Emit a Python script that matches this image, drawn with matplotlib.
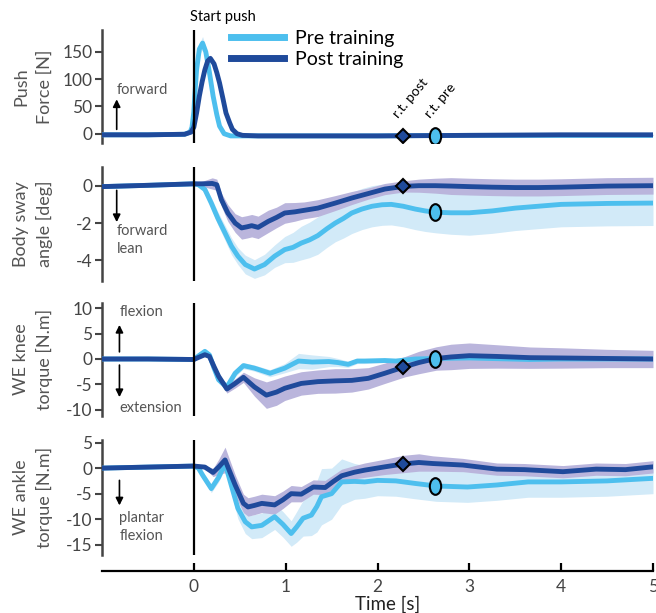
import numpy as np
import matplotlib
matplotlib.use('Agg')
import matplotlib.pyplot as plt
from matplotlib.markers import MarkerStyle
from matplotlib.transforms import Affine2D
from matplotlib.lines import Line2D

plt.rcParams['font.family'] = ['Lato', 'DejaVu Sans']
plt.rcParams['axes.unicode_minus'] = False

# ---------------- data ----------------
series_names = ["Pre training", "Post training"]
rt_post = 2.28
rt_pre = 2.63

t_force_pre = [-1.0, -0.5, -0.1, -0.04, -0.02, 0.0, 0.01, 0.03, 0.06, 0.095, 0.13, 0.17, 0.21, 0.25, 0.28, 0.33, 0.4, 0.6, 1.0, 2.0, 3.0, 4.0, 5.0]
force_pre = [-2, -2, -1, 3, 12, 40, 69, 117, 155, 166, 150, 112, 69, 35, 14, 0, -4, -4, -4, -4, -3, -3, -3]
force_pre_sd = [1, 1, 1, 2, 3, 5, 6, 8, 10, 12, 10, 8, 6, 4, 3, 2, 1, 1, 1, 1, 1, 1, 1]

t_force_post = [-1.0, -0.5, -0.1, -0.03, 0.0, 0.03, 0.06, 0.09, 0.12, 0.15, 0.18, 0.22, 0.25, 0.28, 0.32, 0.35, 0.39, 0.42, 0.47, 0.53, 0.7, 1.0, 2.0, 3.0, 4.0, 5.0]
force_post = [-2, -2, -1, 3, 12, 38, 69, 95, 117, 133, 138, 128, 112, 93, 62, 38, 20, 8, 0, -3, -4, -4, -4, -3, -2, -2]
force_post_sd = [1, 1, 1, 1, 2, 3, 4, 5, 6, 7, 6, 5, 4, 4, 3, 3, 2, 2, 1, 1, 1, 1, 1, 1, 1, 1]

t_sway_pre = [-1.0, -0.5, 0.0, 0.05, 0.12, 0.19, 0.26, 0.34, 0.41, 0.48, 0.56, 0.66, 0.77, 0.88, 0.99, 1.08, 1.17, 1.26, 1.35, 1.45, 1.54, 1.63, 1.72, 1.83, 1.94, 2.05, 2.15, 2.28, 2.41, 2.52, 2.63, 2.8, 3.0, 3.25, 3.5, 3.75, 4.0, 4.5, 5.0]
sway_pre = [-0.05, 0.02, 0.1, 0.05, -0.2, -0.93, -1.73, -2.53, -3.24, -3.77, -4.22, -4.46, -4.22, -3.77, -3.42, -3.3, -3.07, -2.9, -2.67, -2.3, -2.0, -1.75, -1.46, -1.25, -1.1, -1.02, -1.0, -1.1, -1.25, -1.35, -1.42, -1.45, -1.45, -1.35, -1.2, -1.1, -1.0, -0.95, -0.93]
sway_pre_sd = [0.05, 0.05, 0.05, 0.1, 0.2, 0.3, 0.35, 0.4, 0.45, 0.45, 0.5, 0.5, 0.55, 0.6, 0.7, 0.8, 0.9, 0.95, 1.0, 1.0, 1.0, 1.05, 1.1, 1.1, 1.1, 1.1, 1.1, 1.1, 1.1, 1.1, 1.1, 1.15, 1.2, 1.2, 1.2, 1.2, 1.2, 1.2, 1.2]

t_sway_post = [-1.0, -0.5, 0.0, 0.1, 0.2, 0.25, 0.3, 0.37, 0.45, 0.52, 0.58, 0.63, 0.7, 0.81, 0.9, 0.99, 1.1, 1.2, 1.35, 1.54, 1.72, 1.9, 2.08, 2.28, 2.45, 2.63, 2.8, 3.0, 3.25, 3.5, 3.75, 4.0, 4.25, 4.5, 5.0]
sway_post = [-0.05, 0.02, 0.1, 0.1, 0.12, 0.05, -0.75, -1.46, -2.0, -2.26, -2.2, -2.14, -2.23, -1.91, -1.7, -1.46, -1.4, -1.32, -1.2, -0.93, -0.66, -0.42, -0.18, -0.04, 0.0, 0.0, -0.02, -0.05, -0.08, -0.1, -0.1, -0.08, -0.05, -0.02, 0.0]
sway_post_sd = [0.05, 0.05, 0.05, 0.15, 0.3, 0.3, 0.35, 0.45, 0.5, 0.6, 0.6, 0.6, 0.6, 0.6, 0.55, 0.55, 0.5, 0.45, 0.45, 0.4, 0.35, 0.3, 0.3, 0.3, 0.35, 0.4, 0.45, 0.45, 0.45, 0.45, 0.45, 0.45, 0.45, 0.45, 0.45]

t_knee_pre = [-1, -0.5, 0, 0.05, 0.12, 0.17, 0.22, 0.27, 0.36, 0.45, 0.54, 0.66, 0.83, 0.99, 1.14, 1.29, 1.47, 1.57, 1.68, 1.78, 1.86, 2.08, 2.2, 2.41, 2.64, 3.0, 3.66, 4.0, 4.5, 5.0]
knee_pre = [0, 0, -0.1, 0.6, 1.5, 0.8, -1.8, -4.1, -5.5, -2.8, -1.3, -1.8, -2.8, -1.8, -0.4, -0.6, -0.5, -0.7, -1.05, -0.4, -0.4, -0.3, -0.4, 0.0, 0.1, 0.2, -0.1, 0.0, 0.0, 0.0]
knee_pre_sd = [0.1, 0.1, 0.1, 0.3, 0.5, 0.5, 0.6, 0.7, 0.8, 0.7, 0.6, 0.6, 0.7, 0.9, 1.5, 1.4, 1.0, 0.8, 0.6, 0.5, 0.5, 0.4, 0.4, 0.4, 0.4, 0.4, 0.4, 0.4, 0.4, 0.4]

t_knee_post = [-1, -0.5, 0, 0.05, 0.12, 0.17, 0.22, 0.27, 0.36, 0.45, 0.54, 0.66, 0.79, 0.9, 0.99, 1.17, 1.35, 1.54, 1.72, 1.9, 2.08, 2.3, 2.45, 2.64, 2.8, 3.0, 3.3, 3.66, 4.0, 4.5, 5.0]
knee_post = [0, 0, -0.1, 0.3, 0.84, 0.5, -1.5, -3.4, -5.9, -4.8, -3.6, -5.5, -7.1, -6.5, -5.75, -4.8, -4.45, -4.3, -4.2, -3.8, -2.8, -1.5, -0.7, 0.1, 0.4, 0.65, 0.5, 0.26, 0.2, 0.1, 0.0]
knee_post_sd = [0.1, 0.1, 0.1, 0.2, 0.3, 0.4, 0.5, 0.6, 0.8, 0.9, 1.0, 1.8, 2.6, 2.6, 2.4, 2.3, 2.3, 2.4, 2.3, 2.1, 2.0, 2.0, 2.2, 2.3, 2.5, 2.5, 2.3, 2.1, 2.0, 1.8, 1.7]

t_ankle_pre = [-1, -0.5, 0, 0.05, 0.1, 0.19, 0.27, 0.34, 0.41, 0.48, 0.56, 0.63, 0.74, 0.88, 0.97, 1.06, 1.12, 1.19, 1.28, 1.34, 1.39, 1.5, 1.61, 1.75, 1.86, 2.0, 2.2, 2.41, 2.64, 2.98, 3.3, 3.64, 4.0, 4.5, 5.0]
ankle_pre = [0.0, 0.2, 0.4, 0.0, -1.5, -4.0, -1.8, 0.9, -3.5, -7.9, -10.5, -11.5, -11.2, -9.5, -11.0, -12.8, -11.5, -9.8, -9.2, -7.5, -5.6, -5.0, -2.7, -2.6, -2.7, -2.4, -2.5, -3.0, -3.5, -3.7, -3.3, -2.7, -2.7, -2.5, -2.0]
ankle_pre_sd = [0.2, 0.2, 0.2, 0.3, 0.6, 0.8, 0.9, 1.0, 1.5, 2.0, 2.3, 2.3, 2.4, 2.5, 2.5, 2.5, 3.0, 3.5, 4.0, 5.0, 5.5, 5.0, 4.5, 3.5, 3.2, 3.0, 3.0, 3.0, 3.0, 3.0, 3.0, 3.0, 3.0, 3.0, 3.0]

t_ankle_post = [-1, -0.5, 0, 0.12, 0.21, 0.27, 0.34, 0.45, 0.54, 0.59, 0.66, 0.74, 0.88, 0.97, 1.06, 1.17, 1.3, 1.43, 1.52, 1.61, 1.75, 1.86, 2.08, 2.28, 2.45, 2.6, 2.93, 3.3, 3.6, 4.02, 4.38, 4.7, 5.0]
ankle_post = [0.0, 0.2, 0.4, 0.2, -0.85, 0.2, 1.6, -3.3, -6.9, -7.6, -7.3, -6.9, -7.2, -6.2, -5.0, -5.1, -3.7, -3.8, -2.6, -1.5, -0.8, -0.4, 0.25, 0.8, 1.1, 0.9, 0.6, -0.2, -0.3, -0.7, -0.2, -0.3, 0.25]
ankle_post_sd = [0.2, 0.2, 0.2, 0.3, 0.8, 1.5, 2.5, 2.0, 1.8, 1.8, 1.8, 1.8, 1.8, 1.7, 1.6, 1.5, 1.4, 1.4, 1.3, 1.3, 1.3, 1.4, 1.5, 1.7, 1.7, 1.5, 1.3, 1.2, 1.2, 1.2, 1.2, 1.2, 1.2]

x_ticks = [0, 1, 2, 3, 4, 5]
panel_labels = ["Push\nForce [N]", "Body sway\nangle [deg]", "WE knee\ntorque [N.m]", "WE ankle\ntorque [N.m]"]
panel_yticks = [[0, 50, 100, 150], [-4, -2, 0], [-10, -5, 0, 5, 10], [-15, -10, -5, 0, 5]]
panel_ylims = [(-17, 190), (-5.1, 1.0), (-11.2, 11.0), (-17.0, 5.5)]

# ---------------- style ----------------
PRE = '#4DBFEE'
POST = '#1F4A9B'
PRE_BAND = '#D2EAF8'
POST_BAND = '#BAB5DC'
GRAY = '#444444'
W, H = 656, 613

fig = plt.figure(figsize=(W / 100, H / 100), dpi=100)

panel_px = [(30, 143), (167, 281), (303, 416), (440, 555)]
data = [
    (t_force_pre, force_pre, force_pre_sd, t_force_post, force_post, force_post_sd),
    (t_sway_pre, sway_pre, sway_pre_sd, t_sway_post, sway_post, sway_post_sd),
    (t_knee_pre, knee_pre, knee_pre_sd, t_knee_post, knee_post, knee_post_sd),
    (t_ankle_pre, ankle_pre, ankle_pre_sd, t_ankle_post, ankle_post, ankle_post_sd),
]

diamond = MarkerStyle('D', transform=Affine2D().scale(0.9, 1.0))
ellipse = MarkerStyle('o', transform=Affine2D().scale(0.68, 1.0))

axes = []
for i, ((top, bot), (tp, yp, sp, tq, yq, sq)) in enumerate(zip(panel_px, data)):
    ax = fig.add_axes([102 / W, 1 - bot / H, 551 / W, (bot - top) / H])
    axes.append(ax)
    tp, yp, sp = map(np.asarray, (tp, yp, sp))
    tq, yq, sq = map(np.asarray, (tq, yq, sq))
    ax.fill_between(tp, yp - sp, yp + sp, color=PRE_BAND, lw=0, zorder=1)
    ax.fill_between(tq, yq - sq, yq + sq, color=POST_BAND, lw=0, zorder=2)
    ax.plot(tp, yp, color=PRE, lw=3.5, solid_joinstyle='round', zorder=3)
    ax.plot(tq, yq, color=POST, lw=3.5, solid_joinstyle='round', zorder=4)
    ax.axvline(0, color='black', lw=1.6, zorder=5)
    ax.plot([rt_post], [np.interp(rt_post, tq, yq)], marker=diamond, ms=7.5,
            mfc=POST, mec='black', mew=1.5, ls='none', zorder=6)
    ax.plot([rt_pre], [np.interp(rt_pre, tp, yp)], marker=ellipse, ms=12,
            mfc=PRE, mec='black', mew=1.5, ls='none', zorder=6)
    ax.set_xlim(-1, 5)
    ax.set_ylim(*panel_ylims[i])
    ax.set_yticks(panel_yticks[i])
    ax.tick_params(axis='y', direction='out', length=5, width=1.5, colors=GRAY,
                   labelsize=12.5, pad=2)
    for s in ['top', 'right']:
        ax.spines[s].set_visible(False)
    ax.spines['left'].set_color(GRAY)
    ax.spines['left'].set_linewidth(1.8)
    ax.patch.set_alpha(0)
    if i < 3:
        ax.spines['bottom'].set_visible(False)
        ax.set_xticks([])
    else:
        ax.spines['bottom'].set_position(('outward', 11.5))
        ax.spines['bottom'].set_linewidth(1.6)
        ax.set_xticks(x_ticks)
        ax.set_xticklabels([str(v) for v in x_ticks])
        ax.tick_params(axis='x', direction='in', length=6, width=1.6, labelsize=12.5,
                       labelcolor=GRAY, pad=6)
        ax.set_xlabel('Time [s]', fontsize=13.5, color='#222222', labelpad=0)
        ax.xaxis.set_label_coords(0.519, -0.35)
    cy = (top + bot) / 2
    fig.text(33 / W, 1 - cy / H, panel_labels[i], rotation=90, ha='center', va='center',
             multialignment='center', fontsize=13, color='#555555', linespacing=1.55)

ax1, ax2, ax3, ax4 = axes

arrow = dict(arrowstyle='-|>', color='black', lw=1.2, mutation_scale=11, shrinkA=0, shrinkB=0)
ann_color = '#555555'
# panel 1
ax1.annotate('', xy=(-0.84, 63), xytext=(-0.84, 8), arrowprops=arrow)
ax1.text(-0.84, 81, 'forward', fontsize=10.5, color=ann_color, ha='left', va='center')
# panel 2
ax2.annotate('', xy=(-0.84, -1.95), xytext=(-0.84, -0.25), arrowprops=arrow)
ax2.text(-0.84, -2.9, 'forward\nlean', fontsize=10.5, color=ann_color, ha='left', va='center',
         linespacing=1.35)
# panel 3
ax3.text(-0.81, 9.2, 'flexion', fontsize=10.5, color=ann_color, ha='left', va='center')
ax3.annotate('', xy=(-0.81, 6.7), xytext=(-0.81, 1.4), arrowprops=arrow)
ax3.annotate('', xy=(-0.81, -7.5), xytext=(-0.81, -1.2), arrowprops=arrow)
ax3.text(-0.81, -9.6, 'extension', fontsize=10.5, color=ann_color, ha='left', va='center')
# panel 4
ax4.annotate('', xy=(-0.81, -7.3), xytext=(-0.81, -2.4), arrowprops=arrow)
ax4.text(-0.81, -11.45, 'plantar\nflexion', fontsize=10.5, color=ann_color, ha='left',
         va='center', linespacing=1.35)

# reaction time labels
ax1.text(rt_post - 0.05, 28, 'r.t. post', rotation=50, rotation_mode='anchor',
         ha='left', va='baseline', fontsize=10)
ax1.text(rt_pre - 0.05, 28, 'r.t. pre', rotation=50, rotation_mode='anchor',
         ha='left', va='baseline', fontsize=10)

# start push
fig.text(190 / W, 1 - 17 / H, 'Start push', fontsize=10.5, ha='left', va='center')

# legend
handles = [Line2D([], [], color=PRE, lw=5), Line2D([], [], color=POST, lw=5)]
fig.legend(handles, series_names, loc='upper left', bbox_to_anchor=(231 / W, 1 - 30 / H),
           frameon=False, fontsize=14, handlelength=2.7, handletextpad=0.6,
           labelspacing=0.22, borderpad=0, borderaxespad=0)

fig.savefig('out.png', dpi=100)
